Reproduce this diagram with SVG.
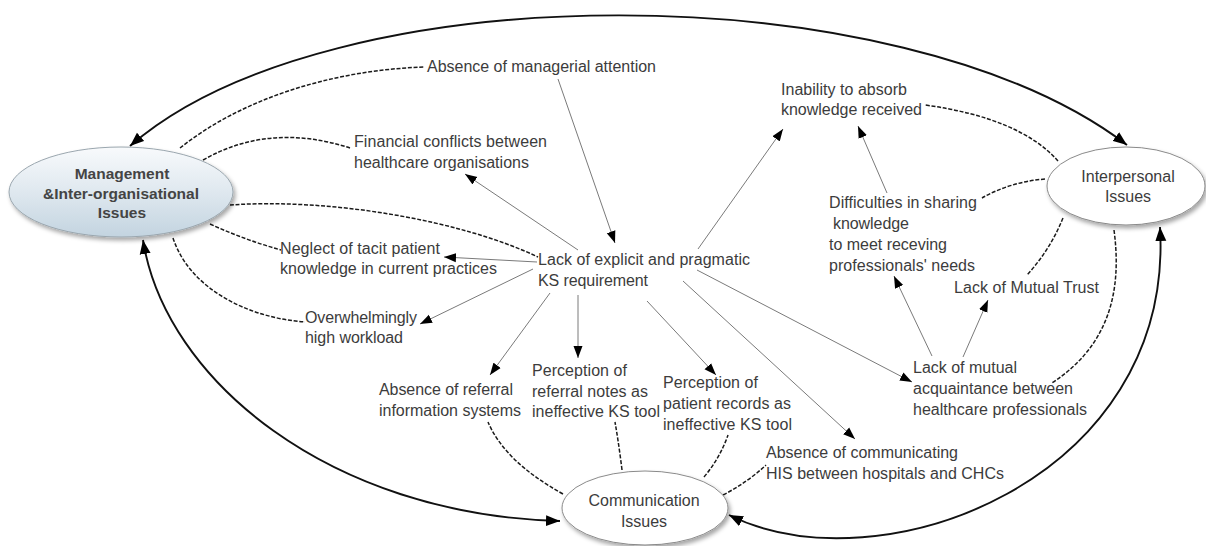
<svg xmlns="http://www.w3.org/2000/svg" width="1206" height="546" viewBox="0 0 1206 546">
<defs>
<style>
.t{font-family:"Liberation Sans",Arial,sans-serif;font-size:16px;fill:#3c3c3c}
.tc{text-anchor:middle}
.tb{font-weight:bold;fill:#444;font-size:15.5px}
.thin{fill:none;stroke:#7a7a7a;stroke-width:1;marker-end:url(#ta)}
.thick{fill:none;stroke:#111;stroke-width:1.9}
.dash{fill:none;stroke:#1a1a1a;stroke-width:1.5;stroke-dasharray:4 1.7}
.node{fill:#fff;stroke:#8a8a8a;stroke-width:1;filter:url(#sh)}
</style>
<linearGradient id="mg" x1="0" y1="0" x2="0" y2="1">
<stop offset="0" stop-color="#f8fafc"/>
<stop offset="0.5" stop-color="#dfe8ef"/>
<stop offset="1" stop-color="#c3d4e0"/>
</linearGradient>
<filter id="sh" x="-10%" y="-10%" width="125%" height="135%">
<feDropShadow dx="2" dy="3" stdDeviation="2" flood-color="#000" flood-opacity="0.35"/>
</filter>
<marker id="ah" markerUnits="userSpaceOnUse" markerWidth="14" markerHeight="12" viewBox="0 0 14 12" refX="14" refY="6" orient="auto-start-reverse">
<path d="M0,0.5 L14,6 L0,11.5 z" fill="#000"/>
</marker>
<marker id="ta" markerUnits="userSpaceOnUse" markerWidth="12" markerHeight="10" viewBox="0 0 12 10" refX="12" refY="5" orient="auto">
<path d="M0,0.5 L12,5 L0,9.5 z" fill="#000"/>
</marker>
</defs>
<rect width="1206" height="546" fill="#fff"/>

<g id="connectors">
<!-- thick curves between main issue nodes -->
<path class="thick" d="M130,146 C330,-28 900,-28 1127,145" marker-start="url(#ah)" marker-end="url(#ah)"/>
<path class="thick" d="M143,240 C165,380 330,515 560,521" marker-start="url(#ah)" marker-end="url(#ah)"/>
<path class="thick" d="M729,515 C880,590 1175,480 1160,227" marker-start="url(#ah)" marker-end="url(#ah)"/>

<!-- dashed links from Management -->
<path class="dash" d="M180,148 C240,100 330,70 425,67"/>
<path class="dash" d="M203,160 Q270,122 350,148"/>
<path class="dash" d="M230,205 C330,198 460,220 538,257"/>
<path class="dash" d="M210,224 Q245,240 281,250"/>
<path class="dash" d="M173,238 C190,290 250,318 305,322"/>

<!-- dashed links from Communication -->
<path class="dash" d="M563,494 Q505,462 488,422"/>
<path class="dash" d="M622,470 Q619,445 615,422"/>
<path class="dash" d="M704,477 Q720,458 728,435"/>
<path class="dash" d="M723,495 Q748,482 766,465"/>

<!-- dashed links from Interpersonal -->
<path class="dash" d="M1058,161 Q1020,118 925,105"/>
<path class="dash" d="M1045,179 Q1010,182 982,198"/>
<path class="dash" d="M1063,218 Q1050,250 1027,275"/>
<path class="dash" d="M1114,230 C1122,290 1110,345 1052,383"/>

<!-- thin arrows -->
<path class="thin" d="M558,79 L615,243"/>
<path class="thin" d="M578,250 L465,174"/>
<path class="thin" d="M537,262 L444,257"/>
<path class="thin" d="M533,269 L420,324"/>
<path class="thin" d="M550,293 L490,375"/>
<path class="thin" d="M578,295 L578,358"/>
<path class="thin" d="M647,301 L716,375"/>
<path class="thin" d="M683,281 L855,439"/>
<path class="thin" d="M697,270 L912,382"/>
<path class="thin" d="M698,249 L783,129"/>
<path class="thin" d="M887,193 L858,126"/>
<path class="thin" d="M932,356 L894,276"/>
<path class="thin" d="M963,357 L988,300"/>
</g>

<g id="management">
<ellipse cx="121" cy="192" rx="112" ry="45" fill="url(#mg)" stroke="#9aa6ae" stroke-width="1" filter="url(#sh)"/>
<text class="t tb tc" x="122" y="179">Management</text>
<text class="t tb tc" x="121" y="199" textLength="156" lengthAdjust="spacing">&amp;Inter-organisational</text>
<text class="t tb tc" x="122" y="218">Issues</text>
</g>

<g id="interpersonal">
<ellipse class="node" cx="1126" cy="186" rx="79" ry="39"/>
<text class="t tc" x="1128" y="182">Interpersonal</text>
<text class="t tc" x="1128" y="202">Issues</text>
</g>

<g id="communication">
<ellipse class="node" cx="645" cy="508" rx="83" ry="37"/>
<text class="t tc" x="644" y="506">Communication</text>
<text class="t tc" x="644" y="527">Issues</text>
</g>

<g id="lack-explicit">
<text class="t" x="538" y="265" textLength="212" lengthAdjust="spacing">Lack of explicit and pragmatic</text>
<text class="t" x="538" y="286" textLength="110" lengthAdjust="spacing">KS requirement</text>
</g>

<g id="absence-managerial">
<text class="t" x="427" y="72" textLength="229" lengthAdjust="spacing">Absence of managerial attention</text>
</g>

<g id="financial">
<text class="t" x="354" y="147" textLength="193" lengthAdjust="spacing">Financial conflicts between</text>
<text class="t" x="354" y="168" textLength="175" lengthAdjust="spacing">healthcare organisations</text>
</g>

<g id="neglect">
<text class="t" x="280" y="254" textLength="160" lengthAdjust="spacing">Neglect of tacit patient</text>
<text class="t" x="280" y="274" textLength="217" lengthAdjust="spacing">knowledge in current practices</text>
</g>

<g id="workload">
<text class="t" x="305" y="323" textLength="112" lengthAdjust="spacing">Overwhelmingly</text>
<text class="t" x="305" y="343" textLength="98" lengthAdjust="spacing">high workload</text>
</g>

<g id="absence-referral">
<text class="t" x="379" y="395" textLength="134" lengthAdjust="spacing">Absence of referral</text>
<text class="t" x="379" y="416" textLength="142" lengthAdjust="spacing">information systems</text>
</g>

<g id="referral-notes">
<text class="t" x="532" y="376" textLength="95" lengthAdjust="spacing">Perception of</text>
<text class="t" x="532" y="397" textLength="116" lengthAdjust="spacing">referral notes as</text>
<text class="t" x="532" y="417" textLength="128" lengthAdjust="spacing">ineffective KS tool</text>
</g>

<g id="patient-records">
<text class="t" x="663" y="388" textLength="95" lengthAdjust="spacing">Perception of</text>
<text class="t" x="663" y="409" textLength="128" lengthAdjust="spacing">patient records as</text>
<text class="t" x="663" y="430" textLength="129" lengthAdjust="spacing">ineffective KS tool</text>
</g>

<g id="absence-his">
<text class="t" x="766" y="458" textLength="192" lengthAdjust="spacing">Absence of communicating</text>
<text class="t" x="766" y="479" textLength="238" lengthAdjust="spacing">HIS between hospitals and CHCs</text>
</g>

<g id="mutual-acquaintance">
<text class="t" x="913" y="373" textLength="104" lengthAdjust="spacing">Lack of mutual</text>
<text class="t" x="913" y="394" textLength="160" lengthAdjust="spacing">acquaintance between</text>
<text class="t" x="913" y="415" textLength="174" lengthAdjust="spacing">healthcare professionals</text>
</g>

<g id="mutual-trust">
<text class="t" x="954" y="293" textLength="145" lengthAdjust="spacing">Lack of Mutual Trust</text>
</g>

<g id="inability">
<text class="t" x="781" y="95" textLength="126" lengthAdjust="spacing">Inability to absorb</text>
<text class="t" x="781" y="115" textLength="141" lengthAdjust="spacing">knowledge received</text>
</g>

<g id="difficulties">
<text class="t" x="829" y="208" textLength="148" lengthAdjust="spacing">Difficulties in sharing</text>
<text class="t" x="833" y="229" textLength="76" lengthAdjust="spacing">knowledge</text>
<text class="t" x="829" y="250" textLength="118" lengthAdjust="spacing">to meet receving</text>
<text class="t" x="829" y="271" textLength="146" lengthAdjust="spacing">professionals' needs</text>
</g>
</svg>
